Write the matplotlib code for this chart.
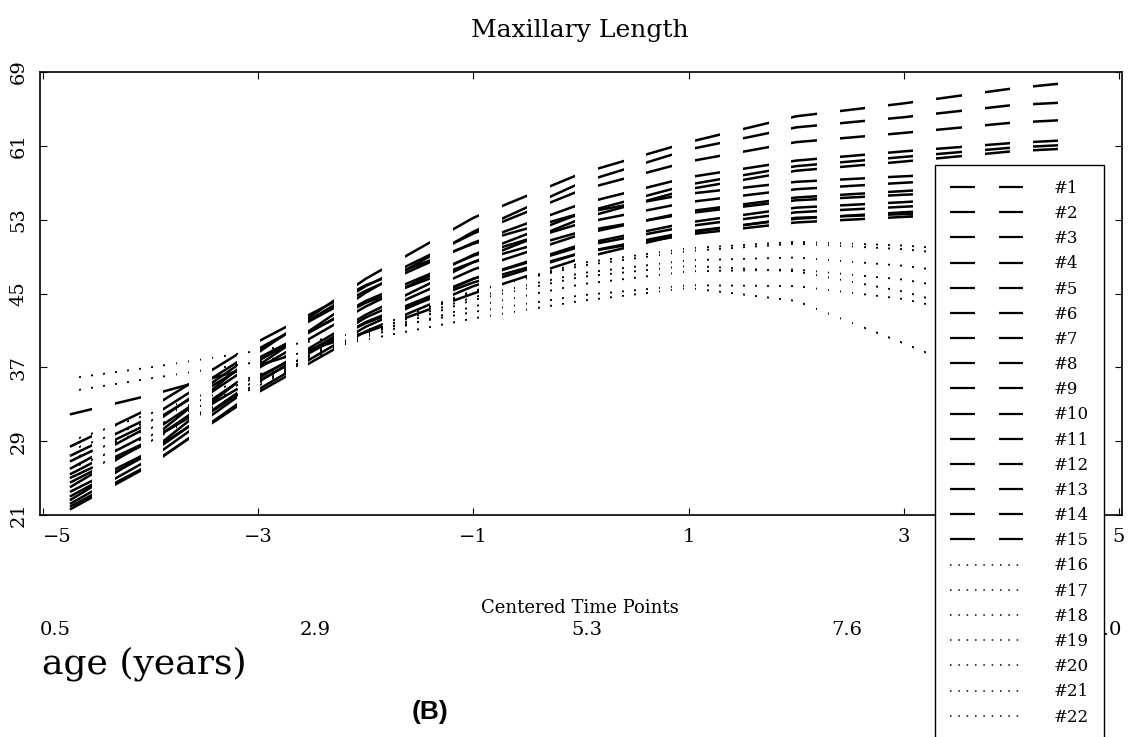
import numpy as np
import matplotlib
matplotlib.use("Agg")
import matplotlib.pyplot as plt
from matplotlib.path import Path
from matplotlib.patches import PathPatch
from matplotlib.lines import Line2D
from matplotlib.transforms import blended_transform_factory

plt.rcParams['font.family'] = ['DejaVu Serif']
plt.rcParams['lines.scale_dashes'] = False

# ---------------- data ----------------
times = [-4.75, -4, -3, -2, -1, 0, 1, 2, 3, 4, 4.5]

s01 = [31.9, 34.0, 37.2, 40.8, 45.0, 48.8, 51.6, 53.2, 53.6, 53.2, 52.8]
s02 = [28.4, 32.6, 39.8, 45.9, 50.4, 53.7, 55.8, 57.1, 57.7, 58.2, 58.5]
s03 = [27.4, 31.6, 39.0, 45.3, 50.5, 54.7, 57.6, 59.4, 60.4, 61.3, 61.6]
s04 = [26.8, 31.0, 38.0, 44.0, 48.4, 51.7, 53.7, 55.1, 55.7, 56.2, 56.4]
s05 = [26.0, 30.7, 38.8, 45.8, 51.5, 56.2, 59.3, 61.4, 62.4, 63.5, 63.8]
s06 = [25.4, 29.9, 37.7, 44.2, 49.1, 52.6, 54.9, 56.3, 57.0, 57.6, 57.8]
s07 = [24.5, 29.0, 36.9, 43.6, 49.2, 53.7, 56.8, 58.8, 59.8, 60.8, 61.1]
s08 = [24.0, 29.2, 38.6, 46.6, 53.2, 58.0, 61.4, 64.2, 65.6, 67.2, 67.8]
s09 = [23.5, 27.9, 35.5, 41.9, 46.6, 50.1, 52.3, 53.8, 54.4, 55.0, 55.2]
s10 = [23.0, 27.7, 35.8, 42.7, 48.4, 53.1, 56.3, 58.3, 59.3, 60.4, 60.7]
s11 = [22.6, 27.9, 37.2, 45.1, 51.7, 57.0, 60.6, 63.0, 64.1, 65.4, 65.7]
s12 = [22.2, 27.1, 35.4, 42.4, 47.6, 51.4, 53.9, 55.4, 56.1, 56.8, 57.0]
s13 = [21.9, 26.5, 34.3, 40.9, 45.8, 49.4, 51.7, 53.1, 53.8, 54.4, 54.6]
s14 = [21.6, 26.4, 34.6, 41.4, 46.6, 50.3, 52.7, 54.3, 54.9, 55.6, 55.8]
s15 = [25.0, 29.1, 36.0, 41.8, 46.2, 49.4, 51.4, 52.7, 53.3, 53.8, 54.0]

s16 = [35.8, 37.0, 38.8, 40.9, 43.0, 44.8, 45.9, 45.8, 44.4, 41.8, 40.2]
s17 = [34.4, 35.8, 37.6, 40.0, 42.3, 44.2, 45.6, 44.2, 39.6, 34.8, 32.0]
s18 = [29.0, 32.0, 36.2, 40.3, 43.6, 46.0, 47.4, 47.6, 46.5, 44.5, 43.2]
s19 = [28.0, 31.2, 36.0, 40.8, 44.6, 47.2, 48.6, 48.9, 48.0, 46.5, 45.6]
s20 = [27.0, 30.4, 35.6, 40.5, 44.3, 46.8, 48.0, 47.4, 45.2, 42.0, 40.0]
s21 = [26.0, 29.6, 35.0, 41.0, 45.3, 48.0, 49.6, 50.4, 49.8, 48.6, 47.8]
s22 = [25.0, 29.0, 35.3, 40.6, 45.2, 48.3, 49.9, 50.6, 50.2, 49.3, 48.6]

dashed_series = [s01, s02, s03, s04, s05, s06, s07, s08, s09, s10,
                 s11, s12, s13, s14, s15]
dotted_series = [s16, s17, s18, s19, s20, s21, s22]
labels = ["#%d" % (i + 1) for i in range(22)]

x_ticks = [-5, -3, -1, 1, 3, 5]
y_ticks = [21, 29, 37, 45, 53, 61, 69]
age_labels = [0.5, 2.9, 5.3, 7.6, 10.0]

# ---------------- figure ----------------
W, H = 1135, 737
fig = plt.figure(figsize=(W / 100, H / 100), dpi=100)
ax_l, ax_r, ax_t, ax_b = 40, 1122, 72, 515
ax = fig.add_axes([ax_l / W, 1 - ax_b / H, (ax_r - ax_l) / W, (ax_b - ax_t) / H])
ax.set_xlim(-5.028, 5.028)
ax.set_ylim(21, 69)


def strip_path(start, stop, period, width):
    verts, codes = [], []
    s = start
    while s < stop:
        verts += [(s, 0), (s + width, 0), (s + width, 100), (s, 100), (s, 0)]
        codes += [Path.MOVETO, Path.LINETO, Path.LINETO, Path.LINETO, Path.CLOSEPOLY]
        s += period
    return Path(verts, codes)


px = (ax_r - ax_l) / (5.028 * 2)          # pixels per data unit
period = 48.3 / px
x0 = -4.778
dash_patch = PathPatch(strip_path(x0, times[-1], period, 25.5 / px),
                       transform=ax.transData, facecolor='none', edgecolor='none')
dot_patch = PathPatch(strip_path(x0, times[-1], period / 4, 1.7 / px),
                      transform=ax.transData, facecolor='none', edgecolor='none')
ax.add_patch(dash_patch)
ax.add_patch(dot_patch)

for vals in dashed_series:
    ln, = ax.plot(times, vals, color='black', lw=1.8, solid_capstyle='butt')
    ln.set_clip_path(dash_patch)

for vals in dotted_series:
    ln, = ax.plot(times, vals, color='black', lw=1.3, solid_capstyle='butt')
    ln.set_clip_path(dot_patch)

# axes styling
for sp in ax.spines.values():
    sp.set_linewidth(1.2)
ax.tick_params(direction='in', length=5, width=0.8, top=True, right=True,
               labelsize=14, pad=9)
ax.set_xticks(x_ticks)
ax.set_xticklabels(["\u2212%d" % -v if v < 0 else "%d" % v for v in x_ticks])
ax.get_xticklabels()[0].set_horizontalalignment('left')
ax.set_yticks(y_ticks)
ax.set_yticklabels([str(v) for v in y_ticks], rotation=90, va='center')

# texts
fig.text(580 / W, 1 - 30 / H, "Maxillary Length", ha='center', va='center', fontsize=18)
fig.text(580 / W, 1 - 608 / H, "Centered Time Points", ha='center', va='center', fontsize=13)
tr = blended_transform_factory(ax.transData, fig.transFigure)
for i, a in enumerate(age_labels):
    xpos = (a - 0.5) / 0.95 - 5
    ha = 'center'
    if i == 0:
        xpos, ha = -5.028, 'left'
    elif i == len(age_labels) - 1:
        xpos, ha = 5.028, 'right'
    ax.text(xpos, 1 - 630 / H, "%.1f" % a, transform=tr, ha=ha, va='center', fontsize=14)
fig.text(42 / W, 1 - 664 / H, "age (years)", ha='left', va='center', fontsize=26)
fig.text(430 / W, 1 - 712 / H, "(B)", ha='center', va='center', fontsize=19,
         fontweight='bold', family=['Liberation Sans', 'DejaVu Sans'])

# legend
handles = []
for i in range(15):
    handles.append(Line2D([0], [0], color='black', lw=1.6, linestyle=(0, (18, 17.3))))
for i in range(7):
    handles.append(Line2D([0], [0], color='black', lw=1.1, linestyle=(0, (1.1, 4.9))))
leg = fig.legend(handles, labels, loc='upper left', bbox_to_anchor=(935 / W, 1 - 165 / H),
                 bbox_transform=fig.transFigure, fontsize=12, frameon=True, fancybox=False,
                 edgecolor='black', framealpha=1, borderpad=0.9, labelspacing=0.49,
                 handlelength=4.4, handletextpad=1.85, borderaxespad=0)
leg.get_frame().set_linewidth(1.0)
leg.set_zorder(10)

fig.savefig("out.png", dpi=100)
